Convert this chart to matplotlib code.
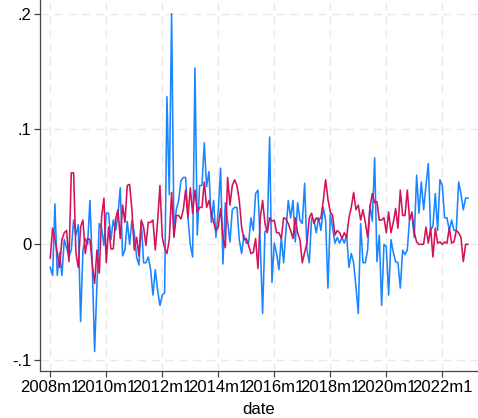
"""Two monthly series, Stata stcolor look."""

import matplotlib

matplotlib.use("Agg")
import matplotlib.pyplot as plt
import numpy as np

# months since 1960m1 (Stata %tm); 2008m1 = 576, 180 months
start_month = 576

series_blue = [
    -0.020, -0.027, 0.035, -0.027, -0.007, -0.027, 0.004, -0.003, -0.011, -0.005,
    0.021, 0.008, 0.017, -0.067, -0.005, 0.005, 0.000, 0.038, -0.018, -0.093,
    -0.035, 0.018, 0.014, -0.001, 0.027, 0.027, 0.004, 0.021, 0.012, 0.025,
    0.049, -0.010, -0.005, 0.020, 0.000, 0.021, 0.010, -0.011, -0.018, 0.019,
    -0.016, -0.016, -0.011, -0.022, -0.044, -0.022, -0.040, -0.053, -0.044, -0.042,
    0.128, 0.043, 0.200, 0.010, 0.030, 0.038, 0.055, 0.058, 0.058, 0.023,
    0.000, -0.011, 0.153, 0.008, 0.051, 0.051, 0.088, 0.050, 0.063, 0.019,
    0.038, 0.006, 0.030, 0.066, -0.017, 0.036, 0.020, 0.002, 0.030, 0.032,
    0.032, 0.004, -0.008, 0.008, 0.001, 0.001, 0.023, 0.012, 0.044, 0.047,
    0.000, -0.060, 0.011, 0.012, 0.093, -0.033, 0.001, -0.008, -0.022, 0.006,
    -0.016, 0.012, 0.038, 0.023, 0.038, 0.002, 0.036, 0.021, 0.018, 0.053,
    -0.005, -0.016, 0.023, 0.021, 0.010, 0.023, 0.012, 0.032, 0.021, -0.038,
    0.026, 0.014, 0.001, 0.006, 0.001, 0.006, 0.001, 0.008, -0.020, -0.008,
    -0.016, -0.037, -0.060, 0.018, -0.016, -0.016, -0.005, 0.034, 0.020, 0.075,
    -0.015, 0.008, -0.053, 0.000, -0.002, -0.044, 0.004, -0.007, -0.015, -0.016,
    -0.038, -0.005, -0.009, -0.005, 0.023, 0.025, 0.006, 0.060, 0.027, 0.054,
    0.030, 0.051, 0.070, 0.012, 0.016, 0.044, 0.012, 0.056, 0.051, 0.023,
    0.023, 0.012, 0.021, 0.012, 0.012, 0.054, 0.044, 0.030, 0.040, 0.040,
]

series_red = [
    -0.012, 0.014, 0.004, -0.008, -0.020, 0.004, 0.010, 0.012, -0.015, 0.062,
    0.062, -0.008, -0.020, 0.015, 0.021, -0.008, 0.005, 0.004, -0.017, -0.034,
    -0.005, -0.025, 0.024, 0.040, -0.016, 0.015, -0.004, -0.004, 0.022, 0.030,
    0.005, 0.034, 0.019, 0.051, 0.052, 0.030, -0.005, 0.006, -0.010, 0.021,
    0.015, -0.001, 0.019, 0.019, 0.021, -0.005, 0.020, 0.051, 0.006, -0.003,
    -0.008, 0.004, 0.045, 0.006, 0.025, 0.025, 0.022, 0.030, 0.047, 0.023,
    0.049, 0.027, 0.047, 0.028, 0.032, 0.032, 0.054, 0.032, 0.038, 0.027,
    0.019, 0.012, 0.015, 0.031, 0.006, -0.003, 0.058, 0.034, 0.051, 0.056,
    0.051, 0.038, 0.015, 0.004, 0.005, -0.001, -0.008, -0.007, 0.005, -0.021,
    0.023, 0.038, 0.018, 0.010, 0.023, 0.020, 0.021, 0.010, 0.010, 0.005,
    0.023, 0.022, 0.018, 0.012, 0.005, 0.023, 0.010, 0.004, -0.016, -0.007,
    0.001, 0.023, 0.027, 0.018, 0.023, 0.021, 0.023, 0.038, 0.056, 0.039,
    0.028, 0.025, 0.008, 0.012, 0.010, 0.005, 0.010, 0.006, 0.023, 0.032,
    0.045, 0.030, 0.034, 0.021, 0.030, 0.019, 0.006, 0.032, 0.044, 0.036,
    0.037, 0.021, 0.021, 0.023, 0.010, 0.028, 0.010, 0.019, 0.031, 0.014,
    0.047, 0.025, 0.025, 0.047, 0.021, 0.028, 0.010, 0.002, 0.000, 0.000,
    0.000, 0.015, 0.001, 0.014, -0.011, 0.014, 0.001, 0.002, 0.000, 0.002,
    0.001, 0.014, 0.001, 0.002, 0.012, 0.010, 0.006, -0.015, 0.000, 0.000,
]

y_ticks = [-0.1, 0, 0.1, 0.2]
y_tick_labels = ["-.1", "0", ".1", ".2"]
x_tick_years = [2008, 2010, 2012, 2014, 2016, 2018, 2020, 2022]

plt.rcParams["font.family"] = ["Liberation Sans", "DejaVu Sans"]

months = start_month + np.arange(len(series_blue))
x_ticks = [(yr - 1960) * 12 for yr in x_tick_years]

W, H = 478, 418
fig = plt.figure(figsize=(W / 100, H / 100), dpi=100)
ax = fig.add_axes([40 / W, (H - 371) / H, (W - 40) / W, 371 / H])

ax.plot(months, series_blue, color="#1a85ff", lw=1.15, zorder=3)
ax.plot(months, series_red, color="#d41159", lw=1.15, zorder=4)

ax.set_xlim(start_month - 4.4, start_month + 183.3)
ax.set_ylim(-0.1099, 0.2119)

ax.set_yticks(y_ticks)
ax.set_yticklabels(y_tick_labels)
ax.set_xticks(x_ticks)
ax.set_xticklabels([f"{yr}m1" for yr in x_tick_years])

ax.grid(True, color="#e9e9e9", lw=1.0, linestyle=(0, (6, 4)), zorder=0)
ax.set_axisbelow(True)

for side in ("top", "right"):
    ax.spines[side].set_visible(False)
for side in ("left", "bottom"):
    ax.spines[side].set_color("#444444")
    ax.spines[side].set_linewidth(0.9)

ax.tick_params(axis="both", direction="out", length=4, width=0.9,
               color="#444444", labelsize=12, labelcolor="black")
ax.tick_params(axis="y", pad=2)
ax.tick_params(axis="x", pad=2.5)
ax.set_xlabel("date", fontsize=12, labelpad=5)

fig.savefig("out.png", dpi=100)
plt.close(fig)
